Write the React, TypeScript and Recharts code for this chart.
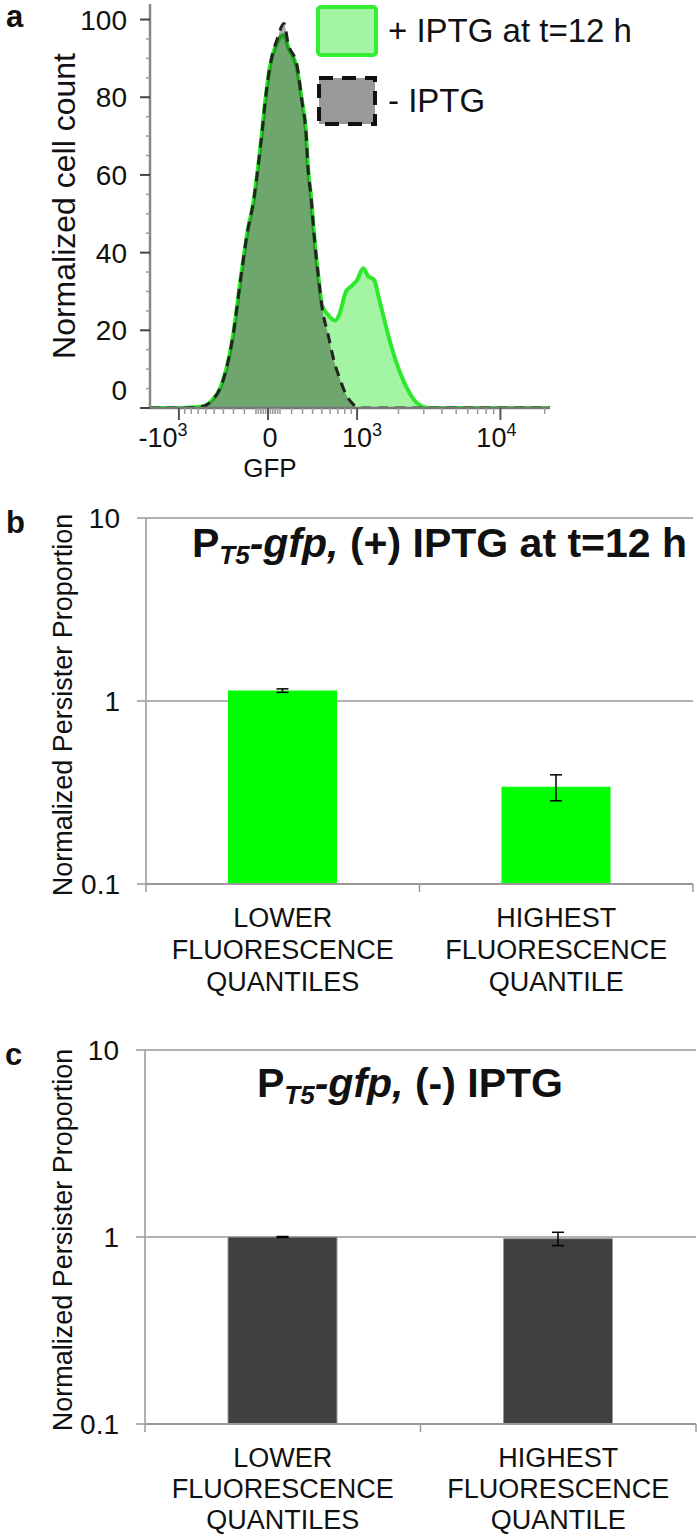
import React from 'react';
import {
  ComposedChart,
  Area,
  XAxis,
  YAxis,
  Legend,
  BarChart,
  Bar,
  ErrorBar,
  CartesianGrid,
} from 'recharts';

const FONT = '"Liberation Sans", Arial, Helvetica, sans-serif';

// panel a - GFP histogram, x in display channels (0-1000, biexponential display)
const GFP_CHANNEL = [
  0, 75, 125, 138, 155, 175, 188, 208, 225, 243, 260, 270, 280, 288, 300, 318, 335, 345, 368, 380, 390,
  395, 403, 410, 423, 430, 445, 463, 473, 490, 505, 518, 533, 545, 560, 573, 595, 615, 638, 665, 683,
  700, 825, 1000,
];
const PLUS_IPTG = [
  0, 0, 0.3, 0.6, 2, 5, 9, 19, 32, 45, 54, 62, 71, 79, 88, 94, 96, 93, 87, 79, 71,
  62, 54, 45, 32, 26.5, 24, 22.5, 24, 30, 31.5, 33, 36, 34, 33, 28, 19, 12, 6, 1.5, 0.3,
  0, 0, 0,
];
const MINUS_IPTG = [
  0, 0, 0.3, 0.6, 2, 5, 9, 19, 32, 45, 54, 62, 71, 79, 88, 95, 99, 94, 88, 79, 71,
  62, 54, 45, 32, 26, 19, 11, 8, 3.5, 1.3, 0.2, 0, 0, 0, 0, 0, 0, 0, 0, 0,
  0, 0, 0,
];

const COUNT_TICKS = [0, 5, 10, 15, 20, 25, 30, 35, 40, 45, 50, 55, 60, 65, 70, 75, 80, 85, 90, 95, 100];
const GFP_MAJOR = [-1000, 0, 1000, 10000];
const GFP_MAJOR_LABELS = [['-10', '3'], ['0', ''], ['10', '3'], ['10', '4']];
const GFP_MINOR = [
  -900, -800, -700, -600, -500, -400, -300, -200, -100, -80, -60, -40, -20, 20, 40, 60, 80, 100,
  200, 300, 400, 500, 600, 700, 800, 900, 2000, 3000, 4000, 5000, 6000, 7000, 8000, 9000, 20000,
];

// panels b, c - persister proportions
const QUANTILES = ['LOWER FLUORESCENCE QUANTILES', 'HIGHEST FLUORESCENCE QUANTILE'];
const PERSISTER_PLUS = [1.14, 0.34];
const PERSISTER_PLUS_ERR = [0.025, 0.055];
const PERSISTER_MINUS = [1.0, 0.98];
const PERSISTER_MINUS_ERR = [0.006, 0.08];
const LOG_TICKS = [0.1, 1, 10];

// biexponential-ish display transform for the GFP axis
const toChannel = (v: number) => 295 + 160 * Math.asinh(v / 530);

const MAJOR_CH = GFP_MAJOR.map(toChannel);
const GFP_TICKS = [...GFP_MINOR.map(toChannel), ...MAJOR_CH].sort((a, b) => a - b);
const LABEL_DX = [-16, 2, 5, -4];

const histData = GFP_CHANNEL.map((ch, i) => ({ ch, plus: PLUS_IPTG[i], minus: MINUS_IPTG[i] }));
const plusData = QUANTILES.map((q, i) => ({ name: q, value: PERSISTER_PLUS[i], err: PERSISTER_PLUS_ERR[i] }));
const minusData = QUANTILES.map((q, i) => ({ name: q, value: PERSISTER_MINUS[i], err: PERSISTER_MINUS_ERR[i] }));

function CountTick({ x, y, payload }: any) {
  const v = payload.value;
  const major = v % 20 === 0;
  return (
    <g>
      <line x1={x - (major ? 10 : 4)} x2={x} y1={y} y2={y} stroke={major ? '#444' : '#999'} strokeWidth={major ? 2 : 1.5} />
      {major && (
        <text x={x - 23} y={v === 0 ? y - 18 : y} dy="0.36em" textAnchor="end" fontSize={28} fill="#111" fontFamily={FONT}>
          {v}
        </text>
      )}
    </g>
  );
}

function GfpTick({ x, y, payload }: any) {
  const idx = MAJOR_CH.indexOf(payload.value);
  if (idx < 0) {
    return <line x1={x} x2={x} y1={y} y2={y + 6} stroke="#999" strokeWidth={1.5} />;
  }
  const [base, sup] = GFP_MAJOR_LABELS[idx];
  return (
    <g>
      <line x1={x} x2={x} y1={y} y2={y + 12} stroke="#555" strokeWidth={2} />
      <text x={x + LABEL_DX[idx]} y={y + 39} textAnchor="middle" fontSize={27} fill="#111" fontFamily={FONT}>
        {base}
        {sup && (
          <tspan fontSize={18} dy={-11}>
            {sup}
          </tspan>
        )}
      </text>
    </g>
  );
}

function HistLegend() {
  return (
    <div style={{ fontFamily: FONT, fontSize: 33, color: '#111' }}>
      <div style={{ display: 'flex', alignItems: 'center', height: 50 }}>
        <svg width={62} height={52}>
          <rect x={2} y={2} width={58} height={48} rx={3} fill="#a3f5a3" stroke="#33ee33" strokeWidth={4} />
        </svg>
        <span style={{ marginLeft: 10 }}>+ IPTG at t=12 h</span>
      </div>
      <div style={{ display: 'flex', alignItems: 'center', height: 50, marginTop: 20 }}>
        <svg width={62} height={52}>
          <rect x={3} y={3} width={56} height={46} fill="#999" stroke="#111" strokeWidth={4} strokeDasharray="14 9" />
        </svg>
        <span style={{ marginLeft: 10 }}>- IPTG</span>
      </div>
    </div>
  );
}

function LogTick({ x, y, payload }: any) {
  return (
    <g>
      <line x1={x - 9} x2={x} y1={y} y2={y} stroke="#999" strokeWidth={1.5} />
      <text x={x - 26} y={y} dy="0.36em" textAnchor="end" fontSize={28} fill="#111" fontFamily={FONT}>
        {payload.value}
      </text>
    </g>
  );
}

const makeQuantileTick = (band: number, gap: number) =>
  function QuantileTick({ x, y, payload, index }: any) {
    const words = String(payload.value).split(' ');
    return (
      <g>
        <line x1={x - band / 2} x2={x - band / 2} y1={y} y2={y + 8} stroke="#999" strokeWidth={1.5} />
        {index === QUANTILES.length - 1 && (
          <line x1={x + band / 2} x2={x + band / 2} y1={y} y2={y + 8} stroke="#999" strokeWidth={1.5} />
        )}
        {words.map((w, i) => (
          <text key={i} x={x} y={y + 43 + i * gap} textAnchor="middle" fontSize={27} fill="#111" fontFamily={FONT}>
            {w}
          </text>
        ))}
      </g>
    );
  };

function Title({ x, y, rest }: { x: number; y: number; rest: string }) {
  return (
    <text x={x} y={y} fontSize={41} fontWeight="bold" fill="#111" fontFamily={FONT}>
      P
      <tspan fontSize={26} fontStyle="italic" dy={7}>
        T5
      </tspan>
      <tspan fontStyle="italic" dy={-7}>
        -gfp,
      </tspan>
      <tspan>{rest}</tspan>
    </text>
  );
}

export default function App() {
  return (
    <div style={{ position: 'absolute', left: 0, top: 0, width: 700, height: 1536, background: '#fff' }}>
      <div style={{ position: 'absolute', left: 0, top: 0 }}>
        <ComposedChart width={700} height={480} data={histData} margin={{ top: 4, right: 150, bottom: 27, left: 90 }}>
          <XAxis
            dataKey="ch"
            type="number"
            domain={[0, 1000]}
            ticks={GFP_TICKS}
            interval={0}
            height={45}
            tickSize={0}
            tickMargin={0}
            tickLine={false}
            tick={<GfpTick />}
            axisLine={{ stroke: '#777', strokeWidth: 2.5 }}
          />
          <YAxis
            type="number"
            domain={[0, 104]}
            allowDataOverflow
            ticks={COUNT_TICKS}
            interval={0}
            width={60}
            tickSize={0}
            tickMargin={0}
            tickLine={false}
            tick={<CountTick />}
            axisLine={{ stroke: '#888', strokeWidth: 2.5 }}
          />
          <Legend
            layout="vertical"
            align="center"
            verticalAlign="middle"
            content={() => <HistLegend />}
            wrapperStyle={{ position: 'absolute', left: 316, top: 6, width: 380, height: 130 }}
          />
          <Area
            type="monotone"
            dataKey="plus"
            name="+ IPTG at t=12 h"
            fill="#a3f5a3"
            fillOpacity={1}
            stroke="#2ee82e"
            strokeWidth={4}
            isAnimationActive={false}
          />
          <Area
            type="monotone"
            dataKey="minus"
            name="- IPTG"
            fill="#000"
            fillOpacity={0.32}
            stroke="#222"
            strokeWidth={3}
            strokeDasharray="10 7"
            isAnimationActive={false}
          />
        </ComposedChart>
      </div>

      <div style={{ position: 'absolute', left: 0, top: 490 }}>
        <BarChart width={700} height={530} data={plusData} margin={{ top: 28, right: 7, bottom: 26, left: 86 }}>
          <CartesianGrid vertical={false} stroke="#999" strokeWidth={1.5} />
          <XAxis
            dataKey="name"
            height={110}
            interval={0}
            tickSize={0}
            tickMargin={0}
            tickLine={false}
            tick={makeQuantileTick(273.5, 32)}
            axisLine={{ stroke: '#999', strokeWidth: 2 }}
          />
          <YAxis
            scale="log"
            domain={[0.1, 10]}
            allowDataOverflow
            ticks={LOG_TICKS}
            interval={0}
            width={60}
            tickSize={0}
            tickMargin={0}
            tickLine={false}
            tick={<LogTick />}
            axisLine={{ stroke: '#b0b0b0', strokeWidth: 2 }}
          />
          <Bar dataKey="value" fill="#00ff00" barSize={109} isAnimationActive={false}>
            <ErrorBar dataKey="err" width={6} stroke="#000" strokeWidth={1.5} />
          </Bar>
        </BarChart>
      </div>

      <div style={{ position: 'absolute', left: 0, top: 1030 }}>
        <BarChart width={700} height={506} data={minusData} margin={{ top: 20, right: 4, bottom: 12, left: 85 }}>
          <CartesianGrid vertical={false} stroke="#999" strokeWidth={1.5} />
          <XAxis
            dataKey="name"
            height={100}
            interval={0}
            tickSize={0}
            tickMargin={0}
            tickLine={false}
            tick={makeQuantileTick(275.5, 31)}
            axisLine={{ stroke: '#999', strokeWidth: 2 }}
          />
          <YAxis
            scale="log"
            domain={[0.1, 10]}
            allowDataOverflow
            ticks={LOG_TICKS}
            interval={0}
            width={60}
            tickSize={0}
            tickMargin={0}
            tickLine={false}
            tick={<LogTick />}
            axisLine={{ stroke: '#b0b0b0', strokeWidth: 2 }}
          />
          <Bar dataKey="value" fill="#404040" stroke="#999" strokeWidth={1} barSize={109} isAnimationActive={false}>
            <ErrorBar dataKey="err" width={6} stroke="#000" strokeWidth={1.5} />
          </Bar>
        </BarChart>
      </div>

      <svg
        width={700}
        height={1536}
        style={{ position: 'absolute', left: 0, top: 0, pointerEvents: 'none' }}
        fontFamily={FONT}
      >
        <text x={6} y={27} fontSize={31} fontWeight="bold" fill="#111">a</text>
        <text x={6} y={533} fontSize={31} fontWeight="bold" fill="#111">b</text>
        <text x={5} y={1065} fontSize={31} fontWeight="bold" fill="#111">c</text>

        <text transform="translate(75,206) rotate(-90)" textAnchor="middle" fontSize={32} fill="#111">
          Normalized cell count
        </text>
        <text x={270} y={477} textAnchor="middle" fontSize={26} fill="#111">GFP</text>

        <text transform="translate(72,705) rotate(-90)" textAnchor="middle" fontSize={27} fill="#111">
          Normalized Persister Proportion
        </text>
        <text transform="translate(72,1240) rotate(-90)" textAnchor="middle" fontSize={27} fill="#111">
          Normalized Persister Proportion
        </text>

        <Title x={192} y={557} rest=" (+) IPTG at t=12 h" />
        <Title x={257} y={1097} rest=" (-) IPTG" />
      </svg>
    </div>
  );
}
